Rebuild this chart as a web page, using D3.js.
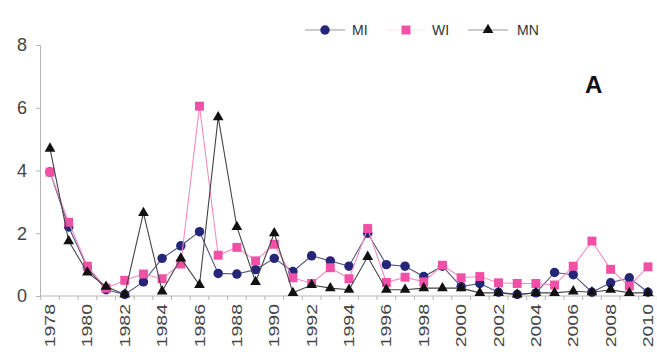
<!DOCTYPE html>
<html>
<head>
<meta charset="utf-8">
<script src="https://cdn.jsdelivr.net/npm/d3@7"></script>
<style>
  body { margin: 0; background: #fff; }
  #viz { width: 657px; height: 360px; }
  text { font-family: Arial, "Liberation Sans", sans-serif; }
</style>
</head>
<body>
<div id="viz"></div>
<script>
// values
var years = d3.range(1978, 2011);
var MI = [3.95, 2.2, 0.9, 0.2, 0.05, 0.45, 1.2, 1.6, 2.05, 0.72, 0.7, 0.84, 1.2, 0.78, 1.28, 1.12, 0.95, 2.0, 1.0, 0.95, 0.62, 0.95, 0.3, 0.4, 0.12, 0.05, 0.1, 0.75, 0.68, 0.12, 0.42, 0.58, 0.12];
var WI = [3.95, 2.35, 0.95, 0.25, 0.5, 0.7, 0.55, 1.02, 6.05, 1.3, 1.55, 1.12, 1.65, 0.58, 0.4, 0.9, 0.55, 2.15, 0.43, 0.6, 0.45, 0.98, 0.58, 0.62, 0.42, 0.4, 0.4, 0.35, 0.95, 1.75, 0.85, 0.32, 0.93];
var MN = [4.7, 1.75, 0.75, 0.3, 0.05, 2.65, 0.15, 1.2, 0.35, 5.7, 2.2, 0.45, 2.0, 0.1, 0.35, 0.25, 0.2, 1.25, 0.2, 0.2, 0.25, 0.25, 0.25, 0.1, 0.1, 0.05, 0.1, 0.1, 0.15, 0.12, 0.2, 0.1, 0.1];
var yTicks = [0, 2, 4, 6, 8];
var tickYears = d3.range(1978, 2011, 2);

var width = 657, height = 360;
var margin = {top: 45, right: 7, bottom: 64, left: 40};

var svg = d3.select("#viz").append("svg")
    .attr("width", width)
    .attr("height", height);

var x = d3.scaleLinear()
    .domain([1978, 2010])
    .range([50, 648]);

var y = d3.scaleLinear()
    .domain([0, 8])
    .range([296, 45]);

/* axes */

var yAxis = svg.append("g")
    .attr("transform", "translate(" + margin.left + ",0)")
    .call(d3.axisLeft(y).tickValues(yTicks).tickSize(4).tickPadding(9));
yAxis.select(".domain").attr("stroke", "#b5b5b5");
yAxis.selectAll(".tick line").attr("stroke", "#b5b5b5");
yAxis.selectAll(".tick text")
    .attr("font-size", 18)
    .attr("fill", "#444");

var xAxis = svg.append("g")
    .attr("transform", "translate(0," + y(0) + ")");
xAxis.append("line")
    .attr("x1", margin.left).attr("x2", 655)
    .attr("stroke", "#b5b5b5");
xAxis.selectAll(".tk")
    .data(years.concat([2011]))
    .enter().append("line")
    .attr("x1", function(d){ return x(d) - 9.3; })
    .attr("x2", function(d){ return x(d) - 9.3; })
    .attr("y1", 0).attr("y2", 4)
    .attr("stroke", "#b5b5b5");
xAxis.selectAll(".lbl")
    .data(tickYears)
    .enter().append("text")
    .attr("transform", function(d){ return "translate(" + (x(d) + 5) + ",8) rotate(-90) scale(1.3,1)"; })
    .attr("text-anchor", "end")
    .attr("font-size", 15)
    .attr("fill", "#444")
    .text(function(d){ return d; });

/* series */

var series = [
  {name: "MI", values: MI, line: "#55557f", fill: "#25257a", shape: "circle"},
  {name: "WI", values: WI, line: "#f48cc4", fill: "#f050a5", shape: "square"},
  {name: "MN", values: MN, line: "#444", fill: "#111", shape: "triangle"}
];

var symbols = {circle: d3.symbolCircle, square: d3.symbolSquare, triangle: d3.symbolTriangle};
var sizes = {circle: 70, square: 80, triangle: 50};

var line = d3.line()
    .x(function(d){ return x(d.year); })
    .y(function(d){ return y(d.v); });

series.forEach(function(s) {
  var pts = years.map(function(yr, i){ return {year: yr, v: s.values[i]}; });
  svg.append("path")
      .datum(pts)
      .attr("d", line)
      .attr("fill", "none")
      .attr("stroke", s.line)
      .attr("stroke-width", 1.1);
  svg.append("g").selectAll("path")
      .data(pts)
      .enter().append("path")
      .attr("transform", function(d){ return "translate(" + x(d.year) + "," + y(d.v) + ")"; })
      .attr("d", d3.symbol().type(symbols[s.shape]).size(sizes[s.shape]))
      .attr("fill", s.fill);
});

/* legend */

var legend = svg.append("g").attr("transform", "translate(0,30)");
var legendItems = [
  {s: series[0], lx: 305, tx: 352},
  {s: series[1], lx: 386, tx: 432},
  {s: series[2], lx: 468, tx: 517}
];
legendItems.forEach(function(it) {
  legend.append("line")
      .attr("x1", it.lx).attr("x2", it.lx + 40)
      .attr("stroke", it.s.name == "WI" ? "#fde3f0" : "#999")
      .attr("stroke-width", 1.2);
  legend.append("path")
      .attr("transform", "translate(" + (it.lx + 20) + ",0)")
      .attr("d", d3.symbol().type(symbols[it.s.shape]).size(sizes[it.s.shape]))
      .attr("fill", it.s.fill);
  legend.append("text")
      .attr("x", it.tx).attr("y", 5)
      .attr("font-size", 14)
      .attr("fill", "#333")
      .text(it.s.name);
});

svg.append("text")
    .attr("x", 585).attr("y", 93)
    .attr("font-size", 24)
    .attr("font-weight", "bold")
    .attr("fill", "#111")
    .text("A");
</script>
</body>
</html>
